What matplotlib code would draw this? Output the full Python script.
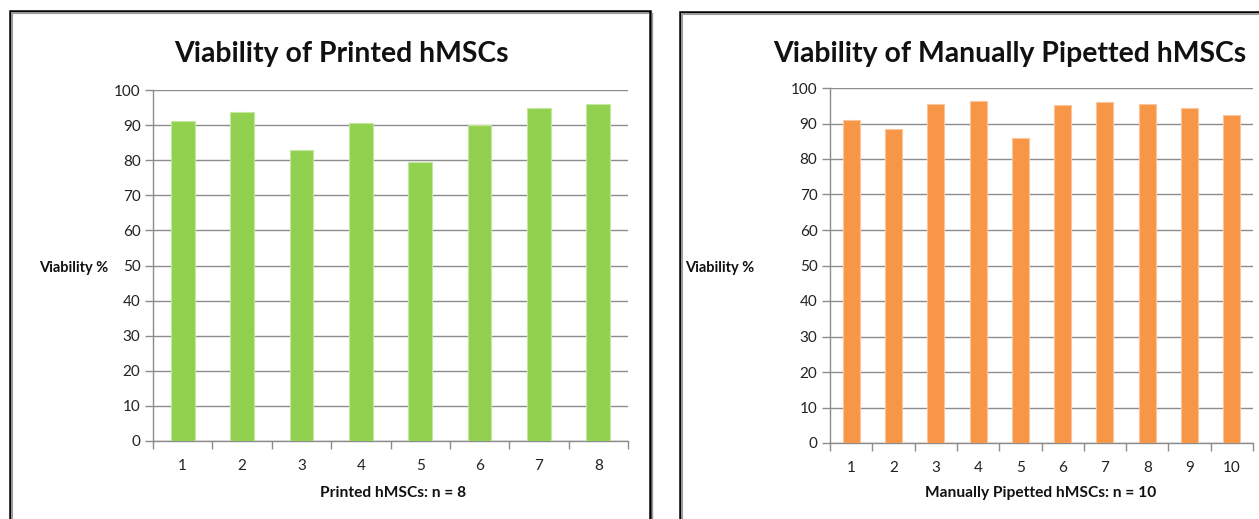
import matplotlib
matplotlib.use("Agg")
import matplotlib.pyplot as plt
from matplotlib.lines import Line2D
from matplotlib.ticker import FixedLocator, NullFormatter

plt.rcParams['font.family'] = ['Lato', 'DejaVu Sans']

# Viability (%) per sample
printed_samples = ["1", "2", "3", "4", "5", "6", "7", "8"]
printed_viability = [91.3, 93.8, 83.0, 90.6, 79.5, 90.0, 95.0, 95.9]

pipetted_samples = ["1", "2", "3", "4", "5", "6", "7", "8", "9", "10"]
pipetted_viability = [91.0, 88.4, 95.5, 96.3, 86.0, 95.2, 96.1, 95.5, 94.3, 92.5]

y_ticks = [0, 10, 20, 30, 40, 50, 60, 70, 80, 90, 100]

W, H = 1259, 519
fig = plt.figure(figsize=(W / 100, H / 100), dpi=100)


def fx(px):
    return px / W


def fy(py):
    return 1 - py / H


GRID = "#8c8c8c"


def panel(x0, x1, top, bottom, cats, vals, color, edge, title, tx, xlabel, xlx, ylx):
    ax = fig.add_axes([fx(x0), fy(bottom), fx(x1 - x0), fy(top) - fy(bottom)])
    pos = list(range(len(cats)))
    ax.bar(pos, vals, width=0.4, color=color, edgecolor=edge, linewidth=0.8, zorder=3)
    ax.set_xlim(-0.5, len(cats) - 0.5)
    ax.set_ylim(0, 100)
    ax.set_yticks(y_ticks)
    ax.yaxis.grid(True, color=GRID, linewidth=1.0, zorder=0)
    ax.set_axisbelow(True)
    for s in ["top", "right"]:
        ax.spines[s].set_visible(False)
    for s in ["left", "bottom"]:
        ax.spines[s].set_color(GRID)
        ax.spines[s].set_linewidth(1.0)
    ax.set_xticks(pos)
    ax.set_xticklabels(cats)
    ax.tick_params(axis="x", which="major", length=0, pad=13, labelsize=11, labelcolor="#222222")
    ax.xaxis.set_minor_locator(FixedLocator([i - 0.5 for i in range(len(cats) + 1)]))
    ax.xaxis.set_minor_formatter(NullFormatter())
    ax.tick_params(axis="x", which="minor", length=6, width=1.0, color=GRID)
    ax.tick_params(axis="y", length=6, width=1.0, color=GRID, pad=3, labelsize=11, labelcolor="#222222")
    fig.text(fx(tx), fy(54), title, ha="center", va="center", fontsize=20.4, fontweight="bold", color="#111111")
    fig.text(fx(xlx), fy(493), xlabel, ha="center", va="center", fontsize=11.2, fontweight="bold", color="#111111")
    fig.text(fx(ylx), fy(268), "Viability %", ha="right", va="center", fontsize=10.5, fontweight="bold", color="#111111")
    return ax


panel(153, 628, 90, 441, printed_samples, printed_viability, "#92D050", "#C4E79E",
      "Viability of Printed hMSCs", 341, "Printed hMSCs: n = 8", 393, 108)
panel(830, 1253, 88, 443, pipetted_samples, pipetted_viability, "#F79646", "#FBC49A",
      "Viability of Manually Pipetted hMSCs", 1010, "Manually Pipetted hMSCs: n = 10", 1041, 754)


# Chart frames: dark outer rule with a grey inner shadow
def frame(x0, x1, top):
    bottom = H + 5
    fig.add_artist(Line2D([fx(x0), fx(x0), fx(x1), fx(x1)], [fy(bottom), fy(top), fy(top), fy(bottom)],
                          color="black", linewidth=1.8, solid_joinstyle="miter"))
    fig.add_artist(Line2D([fx(x0 + 2), fx(x0 + 2), fx(x1 - 2)], [fy(bottom), fy(top + 2), fy(top + 2)],
                          color="#9a9a9a", linewidth=1.5, solid_joinstyle="miter"))
    if x1 < W:
        fig.add_artist(Line2D([fx(x1 + 2)] * 2, [fy(bottom), fy(top + 2)], color="#9a9a9a", linewidth=1.0))


frame(10, 650, 11)
frame(680, W + 10, 12)

fig.savefig("out.png", dpi=100, facecolor="white")
